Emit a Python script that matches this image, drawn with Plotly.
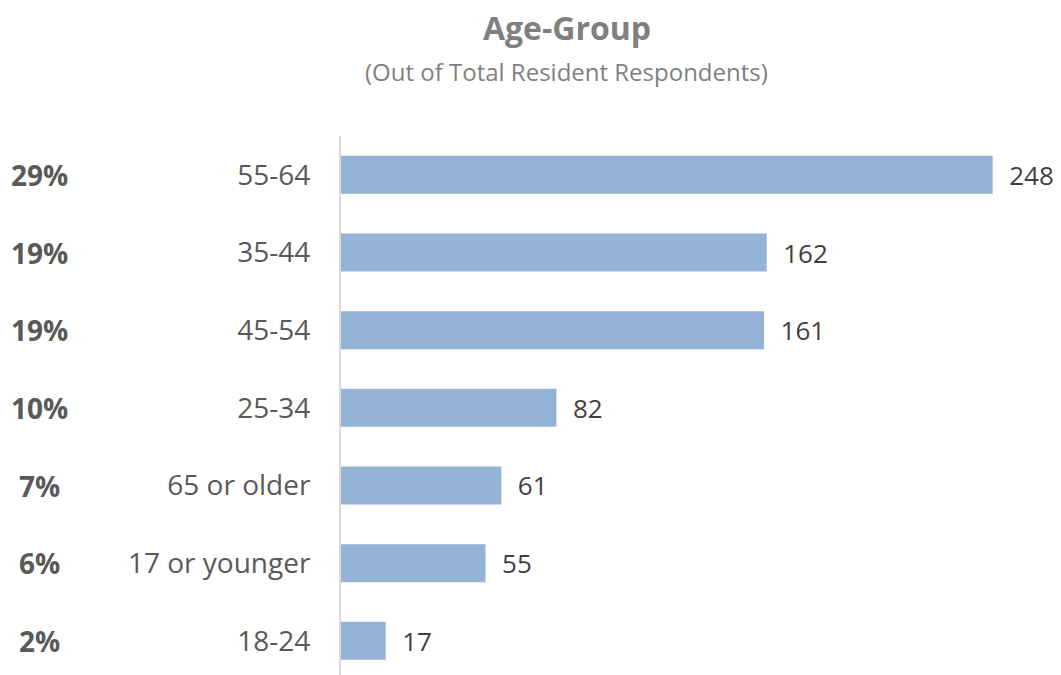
import plotly.graph_objects as go

categories = ["55-64", "35-44", "45-54", "25-34", "65 or older", "17 or younger", "18-24"]
counts = [248, 162, 161, 82, 61, 55, 17]
percent_labels = ["29%", "19%", "19%", "10%", "7%", "6%", "2%"]

FONT = "Open Sans"
OFF = 8  # default page body margin
W, H = 1061 - OFF, 675 - OFF
L, R, T, B = 341 - OFF, 0, 136 - OFF, 0
plot_w = W - L - R
plot_h = H - T - B


def px_x(sx):
    return (sx - OFF - L) / plot_w


def px_y(sy):
    return (H - B - (sy - OFF)) / plot_h


fig = go.Figure()
fig.add_trace(go.Bar(
    y=categories,
    x=counts,
    orientation="h",
    marker=dict(color="#95B3D7", line=dict(width=0)),
    text=counts,
    texttemplate="  %{text}",
    textposition="outside",
    cliponaxis=False,
    textfont=dict(family=FONT, size=26, color="#404040"),
    hoverinfo="skip",
))

for cat, p in zip(categories, percent_labels):
    fig.add_annotation(
        x=px_x(39), xref="paper", xanchor="center",
        y=cat, yref="y", yanchor="middle",
        text=f"<b>{p}</b>", showarrow=False,
        font=dict(family=FONT, size=28, color="#595959"),
    )

fig.add_annotation(
    x=px_x(566), xref="paper", xanchor="center",
    y=px_y(72), yref="paper", yanchor="middle",
    text="(Out of Total Resident Respondents)", showarrow=False,
    font=dict(family=FONT, size=24, color="#808080"),
)

fig.update_layout(
    width=W, height=H,
    margin=dict(l=L, r=R, t=T, b=B, autoexpand=False),
    paper_bgcolor="white", plot_bgcolor="white",
    showlegend=False,
    bargap=0.51,
    title=dict(
        text="<b>Age-Group</b>",
        x=(567 - OFF) / W, xref="container", xanchor="center",
        y=1 - (28.5 - OFF) / H, yref="container", yanchor="middle",
        font=dict(family=FONT, size=32, color="#7f7f7f"),
    ),
    xaxis=dict(range=[0, 274], visible=False, fixedrange=True),
    yaxis=dict(
        categoryorder="array", categoryarray=categories,
        range=[6.44, -0.5],
        showline=True, linecolor="#d9d9d9", linewidth=2,
        showgrid=False, zeroline=False, ticks="",
        ticklabelstandoff=23,
        tickfont=dict(family=FONT, size=28, color="#595959"),
        fixedrange=True,
    ),
)

fig.write_html("out.html")
